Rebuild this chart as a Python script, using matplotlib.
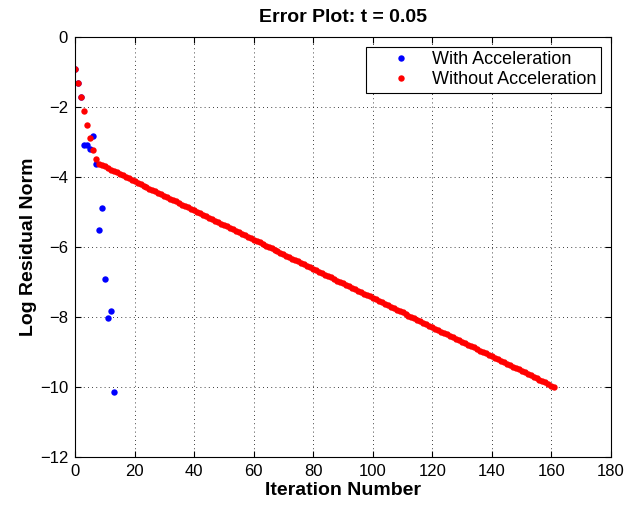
import matplotlib
matplotlib.use("Agg")
import matplotlib.pyplot as plt
import numpy as np

plt.rcParams['font.family'] = ['Liberation Sans', 'DejaVu Sans']

# log residual norm per iteration
with_accel = [-0.91, -1.31, -1.72, -3.09, -3.09, -3.21, -2.83, -3.62,
              -5.52, -4.89, -6.91, -8.02, -7.83, -10.13]

without_accel = [
    -0.91, -1.31, -1.72, -2.12, -2.51, -2.88, -3.22, -3.48, -3.62,
    -3.66, -3.70, -3.75, -3.79, -3.83, -3.87, -3.91, -3.95, -4.00, -4.04, -4.08,
    -4.12, -4.16, -4.20, -4.25, -4.29, -4.33, -4.37, -4.41, -4.45, -4.50,
    -4.54, -4.58, -4.62, -4.66, -4.70, -4.75, -4.79, -4.83, -4.87, -4.91,
    -4.95, -5.00, -5.04, -5.08, -5.12, -5.16, -5.20, -5.25, -5.29, -5.33,
    -5.37, -5.41, -5.45, -5.50, -5.54, -5.58, -5.62, -5.66, -5.71, -5.75,
    -5.79, -5.83, -5.87, -5.91, -5.96, -6.00, -6.04, -6.08, -6.12, -6.16,
    -6.21, -6.25, -6.29, -6.33, -6.37, -6.41, -6.46, -6.50, -6.54, -6.58,
    -6.62, -6.66, -6.71, -6.75, -6.79, -6.83, -6.87, -6.91, -6.96, -7.00,
    -7.04, -7.08, -7.12, -7.16, -7.21, -7.25, -7.29, -7.33, -7.37, -7.41,
    -7.46, -7.50, -7.54, -7.58, -7.62, -7.66, -7.71, -7.75, -7.79, -7.83,
    -7.87, -7.92, -7.96, -8.00, -8.04, -8.08, -8.12, -8.17, -8.21, -8.25,
    -8.29, -8.33, -8.37, -8.42, -8.46, -8.50, -8.54, -8.58, -8.62, -8.67,
    -8.71, -8.75, -8.79, -8.83, -8.87, -8.92, -8.96, -9.00, -9.04, -9.08,
    -9.12, -9.17, -9.21, -9.25, -9.29, -9.33, -9.37, -9.42, -9.46, -9.50,
    -9.54, -9.58, -9.62, -9.67, -9.71, -9.75, -9.79, -9.83, -9.87, -9.92,
    -9.96, -10.00,
]

x_ticks = [0, 20, 40, 60, 80, 100, 120, 140, 160, 180]
y_ticks = [-12, -10, -8, -6, -4, -2, 0]

fig = plt.figure(figsize=(6.38, 5.08), dpi=100)
ax = fig.add_axes([0.1176, 0.1004, 0.840, 0.8268])

ax.plot(np.arange(len(with_accel)), with_accel, 'o', color='blue',
        markersize=4.6, markeredgewidth=0, label='With Acceleration')
ax.plot(np.arange(len(without_accel)), without_accel, 'o', color='red',
        markersize=4.6, markeredgewidth=0, label='Without Acceleration')

ax.set_xlim(0, 180)
ax.set_ylim(-12, 0)
ax.set_xticks(x_ticks)
ax.set_yticks(y_ticks)
ax.tick_params(direction='in', top=True, right=True, labelsize=12, length=4,
               pad=5)
ax.grid(True, linestyle=(0, (1, 4)), color='black', linewidth=0.6)
for s in ax.spines.values():
    s.set_linewidth(0.8)

ax.set_title('Error Plot: t = 0.05', fontsize=14, fontweight='bold', pad=11)
ax.set_xlabel('Iteration Number', fontsize=14, fontweight='bold', labelpad=2)
ax.set_ylabel('Log Residual Norm', fontsize=14, fontweight='bold', labelpad=2)

leg = ax.legend(loc='upper right', fontsize=13, fancybox=False, framealpha=1,
                edgecolor='black', borderaxespad=0.55, handletextpad=0.1,
                borderpad=0.25, labelspacing=0.15, handlelength=3.3)
leg.get_frame().set_linewidth(0.8)

fig.savefig('out.png', dpi=100)
